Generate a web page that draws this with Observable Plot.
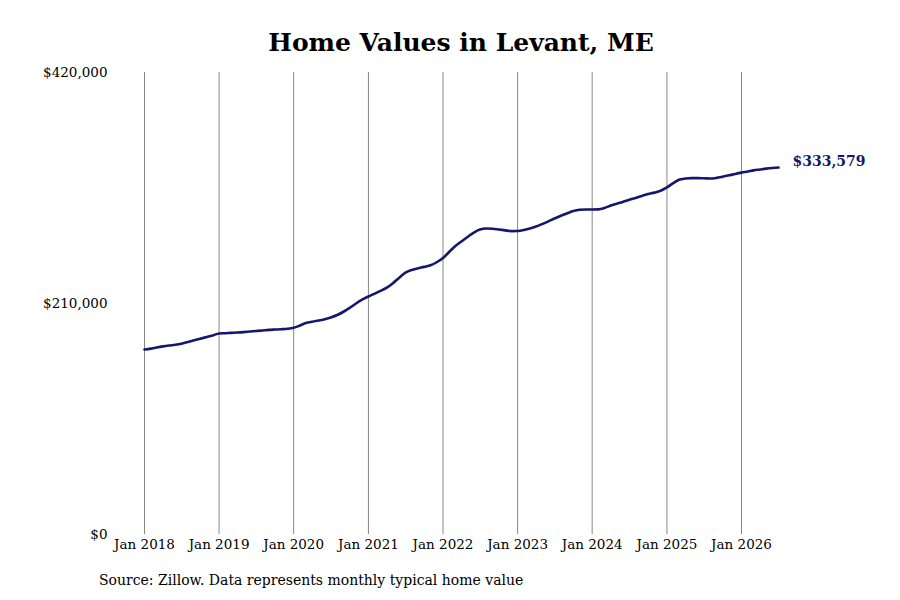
<!DOCTYPE html>
<html>
<head>
<meta charset="utf-8">
<script src="https://cdn.jsdelivr.net/npm/d3@7"></script>
<script src="https://cdn.jsdelivr.net/npm/@observablehq/plot@0.6"></script>
<style>
  html, body { margin: 0; padding: 0; background: #fff; }
  body { width: 900px; height: 600px; font-family: "DejaVu Serif", serif; }
  #title { height: 62px; box-sizing: border-box; padding-top: 28px; padding-left: 22px; text-align: center; font-weight: bold; font-size: 25px; line-height: 30px; color: #000; }
  #chart svg { display: block; }
  #caption { margin-top: 10px; padding-left: 99px; font-size: 14px; color: #000; }
</style>
</head>
<body>
<div id="title">Home Values in Levant, ME</div>
<div id="chart"></div>
<div id="caption">Source: Zillow. Data represents monthly typical home value</div>
<script>
// Monthly typical home value (thousands of dollars), Jan 2018 .. Jul 2026
const startYear = 2018;
const values = [
  168.2, 169.0, 170.0, 171.0, 171.8, 172.5, 173.5, 175.0, 176.5, 178.0, 179.5, 181.0,
  182.7, 183.0, 183.3, 183.6, 184.0, 184.5, 185.0, 185.5, 186.0, 186.3, 186.6, 187.0,
  187.9, 190.0, 192.2, 193.5, 194.5, 195.6, 197.3, 199.5, 202.5, 206.0, 210.0, 213.5,
  216.4, 219.0, 221.5, 224.5, 228.5, 233.5, 238.0, 240.5, 242.0, 243.3, 244.8, 247.5,
  251.4, 257.0, 262.0, 266.4, 270.5, 274.5, 277.2, 278.2, 278.0, 277.3, 276.5, 275.8,
  275.9, 276.8, 278.2, 280.0, 282.2, 284.7, 287.3, 289.8, 292.0, 294.0, 295.2, 295.5,
  295.5, 295.6, 296.8, 299.0, 300.8, 302.5, 304.3, 306.0, 307.8, 309.5, 310.8, 312.5,
  315.5, 319.5, 322.5, 323.6, 324.0, 324.0, 323.8, 323.6, 324.2, 325.3, 326.5, 327.8,
  329.0, 330.0, 331.0, 331.8, 332.6, 333.2, 333.579
];
const yTicks = [0, 210000, 420000];
const xTickYears = [2018, 2019, 2020, 2021, 2022, 2023, 2024, 2025, 2026];
const lastLabel = "$333,579";

const data = values.map((v, i) => ({date: new Date(startYear, i, 1), value: v * 1000}));
const last = data[data.length - 1];
const fmtMoney = d => "$" + d3.format(",")(d);
const navy = "#16166c";

const chart = Plot.plot({
  width: 900,
  height: 500,
  marginTop: 10,
  marginBottom: 28,
  marginLeft: 144,
  marginRight: 122,
  style: {fontFamily: "DejaVu Serif, serif", fontSize: "13.5px", color: "#000", background: "#fff"},
  x: {type: "time", domain: [data[0].date, last.date], label: null},
  y: {domain: [0, 420000], label: null},
  marks: [
    Plot.gridX(xTickYears.map(y => new Date(y, 0, 1)), {stroke: "#888", strokeOpacity: 1, strokeWidth: 1}),
    Plot.axisX(xTickYears.map(y => new Date(y, 0, 1)), {tickSize: 0, tickPadding: 5, tickFormat: d3.timeFormat("%b %Y"), label: null}),
    Plot.axisY(yTicks, {tickSize: 0, tickPadding: 37, tickFormat: fmtMoney, label: null}),
    Plot.line(data, {x: "date", y: "value", stroke: navy, strokeWidth: 2.6, curve: "monotone-x"}),
    Plot.text([last], {x: "date", y: "value", text: () => lastLabel, textAnchor: "start", dx: 14, dy: -6, fill: navy, fontWeight: "bold", fontSize: 14})
  ]
});
document.getElementById("chart").appendChild(chart);
</script>
</body>
</html>
